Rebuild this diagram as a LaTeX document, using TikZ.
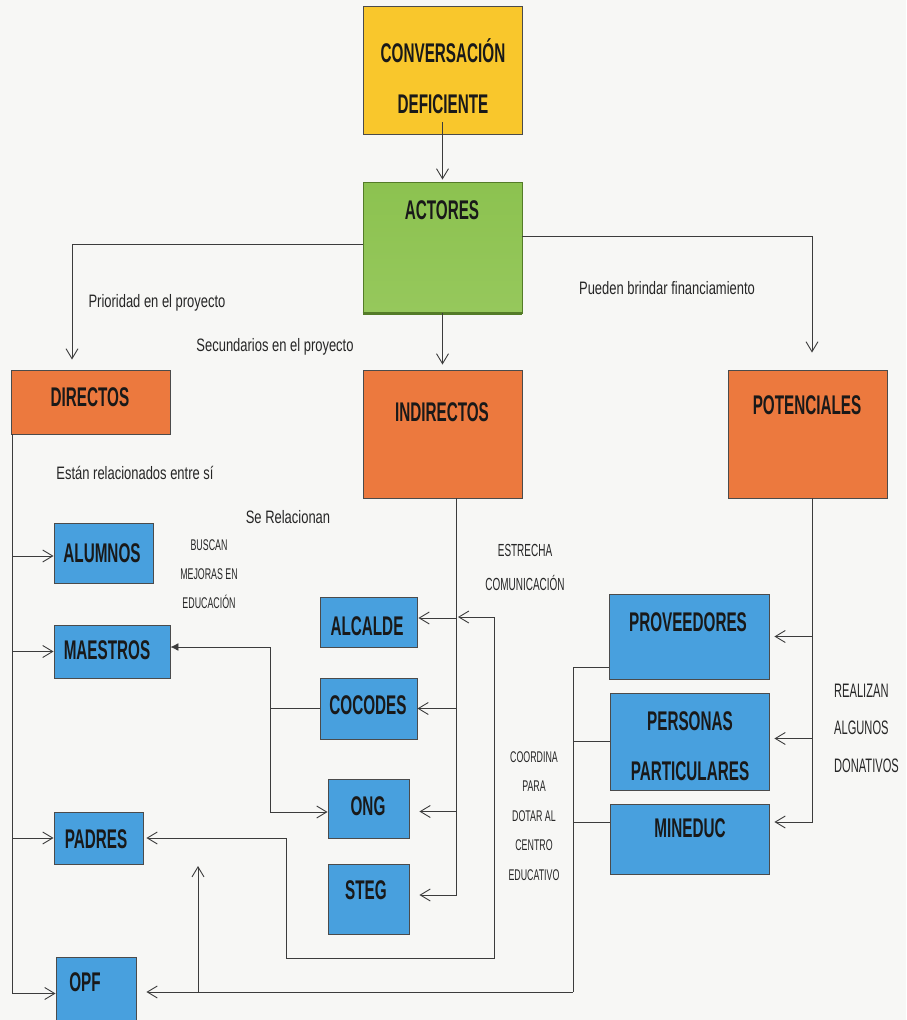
\documentclass[tikz,border=0pt]{standalone}
\usepackage{fontspec}
\setmainfont{Liberation Sans}
\newfontfamily\condA[FakeStretch=0.565]{Liberation Sans}
\newfontfamily\condB[FakeStretch=0.72]{Liberation Sans}
\newfontfamily\condC[FakeStretch=0.57]{Liberation Sans}
\usetikzlibrary{arrows.meta}
\definecolor{bgc}{RGB}{247,247,245}
\definecolor{ylw}{RGB}{249,199,44}
\definecolor{org}{RGB}{236,121,62}
\definecolor{blu}{RGB}{72,160,222}
\definecolor{grnT}{RGB}{140,194,80}
\definecolor{grnM}{RGB}{106,166,46}
\definecolor{grnB}{RGB}{150,200,92}
\definecolor{grnE}{RGB}{84,124,40}
\definecolor{edge}{RGB}{75,75,75}
\definecolor{lnc}{RGB}{60,60,60}
\begin{document}
\begin{tikzpicture}[x=1pt,y=-1pt,
  box/.style={draw=edge, line width=0.9pt, rectangle, inner sep=0pt},
  ybox/.style={box, fill=ylw},
  gbox/.style={box, draw=grnE, top color=grnT, middle color=grnM, bottom color=grnB},
  obox/.style={box, fill=org},
  bbox/.style={box, fill=blu},
  btxt/.style={font=\condA\bfseries\fontsize{27}{51}\selectfont, align=center, inner sep=0pt, text=black!90},
  ltxt/.style={font=\condB\fontsize{18}{20}\selectfont, inner sep=0pt, text=black!85},
  ctxt/.style={align=center, inner sep=0pt, text=black!85},
  ln/.style={draw=lnc, line width=0.9pt},
  arr/.style={ln, -{Straight Barb[length=10pt,width=12pt]}},
  arrboth/.style={ln, {Straight Barb[length=10pt,width=12pt]}-{Straight Barb[length=10pt,width=12pt]}}
]
\clip (0,0) rectangle (906,1020);
\fill[bgc] (0,0) rectangle (906,1020);

% boxes
\node[ybox, minimum width=159, minimum height=128] (conv) at (442.5,70) {};
\node[gbox, minimum width=159, minimum height=131] (actores) at (442.5,247.5) {};
\draw[grnE, line width=2.5pt] (actores.south west) -- (actores.south east);
\node[obox, minimum width=159, minimum height=64] (directos) at (90.5,402) {};
\node[obox, minimum width=159, minimum height=128] (indirectos) at (442.5,434) {};
\node[obox, minimum width=159, minimum height=128] (potenciales) at (807.5,434) {};
\node[bbox, minimum width=99, minimum height=60] (alumnos) at (103.5,553) {};
\node[bbox, minimum width=116, minimum height=53] (maestros) at (112,651.5) {};
\node[bbox, minimum width=89, minimum height=52] (padres) at (98.5,838) {};
\node[bbox, minimum width=80, minimum height=73] (opf) at (96,993.5) {};
\node[bbox, minimum width=97, minimum height=50] (alcalde) at (368.5,622) {};
\node[bbox, minimum width=97, minimum height=61] (cocodes) at (368.5,708.5) {};
\node[bbox, minimum width=81, minimum height=59] (ong) at (368.5,808.5) {};
\node[bbox, minimum width=81, minimum height=70] (steg) at (368.5,899) {};
\node[bbox, minimum width=160, minimum height=85] (proveedores) at (689,636.5) {};
\node[bbox, minimum width=159, minimum height=97] (personas) at (689.5,741.5) {};
\node[bbox, minimum width=159, minimum height=70] (mineduc) at (689.5,839) {};

% box texts
\node[btxt] (convT) at (443,76) {CONVERSACIÓN\\DEFICIENTE};
\node[btxt] (actoresT) at (442,210) {ACTORES};
\node[btxt] (directosT) at (90,397) {DIRECTOS};
\node[btxt] (indirectosT) at (442,412) {INDIRECTOS};
\node[btxt] (potencialesT) at (807,405) {POTENCIALES};
\node[btxt] (alumnosT) at (102,553) {ALUMNOS};
\node[btxt] (maestrosT) at (107,650) {MAESTROS};
\node[btxt] (padresT) at (96,839) {PADRES};
\node[btxt] (opfT) at (85,982) {OPF};
\node[btxt] (alcaldeT) at (367,626) {ALCALDE};
\node[btxt] (cocodesT) at (368,705) {COCODES};
\node[btxt] (ongT) at (368,806) {ONG};
\node[btxt] (stegT) at (366,890) {STEG};
\node[btxt] (proveedoresT) at (688,622) {PROVEEDORES};
\node[btxt, font=\condA\bfseries\fontsize{27}{50}\selectfont] (personasT) at (690,746) {PERSONAS\\PARTICULARES};
\node[btxt] (mineducT) at (690,828) {MINEDUC};

% labels
\node[ltxt] (l1) at (157,303) {Prioridad en el proyecto};
\node[ltxt] (l2) at (275,347) {Secundarios en el proyecto};
\node[ltxt] (l3) at (667,288) {Pueden brindar financiamiento};
\node[ltxt] (l4) at (135,473) {Están relacionados entre sí};
\node[ltxt] (l5) at (288,517) {Se Relacionan};
\node[ctxt, font=\condC\fontsize{15.5}{29}\selectfont] (l6) at (209,574) {BUSCAN\\MEJORAS EN\\EDUCACIÓN};
\node[ctxt, font=\condC\fontsize{17.5}{34}\selectfont] (l7) at (525,567) {ESTRECHA\\COMUNICACIÓN};
\node[ctxt, font=\condC\fontsize{15.5}{29.5}\selectfont] (l8) at (534,816) {COORDINA\\PARA\\DOTAR AL\\CENTRO\\EDUCATIVO};
\node[ctxt, font=\condC\fontsize{19.5}{37.5}\selectfont, align=left, anchor=west] (l9) at (834,728) {REALIZAN\\ALGUNOS\\DONATIVOS};

% top connectors
\draw[arr, shorten >=2pt] ([yshift=12pt]conv.south) -- (actores.north);
\coordinate (aL) at (72,244);
\coordinate (aR) at (812,236);
\draw[arr, shorten >=10pt] (actores.west |- aL) -- (aL) -- (aL |- directos.north);
\draw[arr, shorten >=17pt] (actores.east |- aR) -- (aR) -- (aR |- potenciales.north);
\draw[arr, shorten >=5pt] (actores.south) -- (indirectos.north);

% left trunk from DIRECTOS
\coordinate (dT) at (12,434);
\draw[arr] (dT) |- ([yshift=-3pt]alumnos.west);
\draw[arr] (dT) |- (maestros.west);
\draw[arr] (dT) |- (padres.west);
\draw[arr] (dT) |- (opf.west);

% INDIRECTOS trunk
\coordinate (iT) at (456,498);
\draw[arr, shorten >=1pt] (iT) |- ([yshift=4pt]alcalde.east);
\draw[arr] (iT) |- (cocodes.east);
\draw[arr, shorten >=10pt] (iT) |- ([yshift=-3pt]ong.east);
\draw[arr, shorten >=10pt] (iT) |- ([yshift=4pt]steg.east);

% ESTRECHA loop to PADRES
\coordinate (eA) at (494,617);
\coordinate (eB) at (494,958);
\coordinate (eC) at (286,958);
\draw[arrboth, shorten >=3pt, shorten <=2pt] (iT |- eA) -- (eA) -- (eB) -- (eC) -- (eC |- padres.east) -- (padres.east);

% MAESTROS - COCODES - ONG
\coordinate (m1) at (270,647);
\coordinate (m2) at (270,812);
\draw[ln, {Latex[length=8pt,width=8pt]}-{Straight Barb[length=10pt,width=12pt]}] (maestros.east |- m1) -- (m1) -- (m2) -- (ong.west |- m2);
\draw[ln] (m1 |- cocodes.west) -- (cocodes.west);

% POTENCIALES trunk
\coordinate (pT) at (812,498);
\coordinate (pM) at (812,822);
\draw[arr, shorten >=5pt] (pT) |- (proveedores.east);
\draw[arr, shorten >=5pt] (pT) |- ([yshift=3pt]personas.east);
\draw[arr, shorten >=5pt] (pT) -- (pM) -- (mineduc.east |- pM);

% COORDINA line to OPF
\coordinate (c1) at (573,667);
\coordinate (c2) at (573,992);
\coordinate (c3) at (573,822);
\draw[ln] (proveedores.west |- c1) -- (c1) -- (c2);
\draw[ln] (c1 |- personas.west) -- (personas.west);
\draw[ln] (c3) -- (mineduc.west |- c3);
\draw[arr, shorten >=10pt] (c2) -- (opf.east |- c2);
\coordinate (u1) at (198,992);
\coordinate (u2) at (198,866);
\draw[arr] (u1) -- (u2);
\end{tikzpicture}
\end{document}
